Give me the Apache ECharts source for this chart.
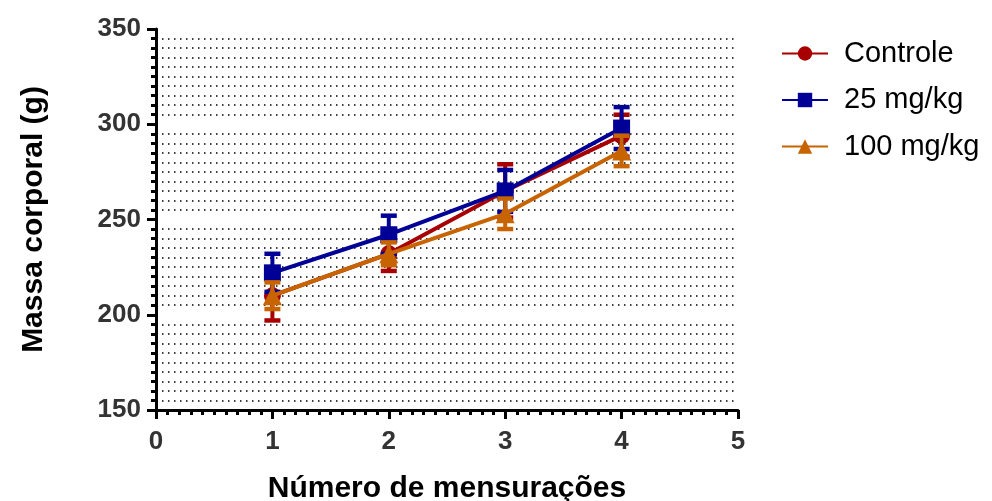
<!DOCTYPE html>
<html>
<head>
<meta charset="utf-8">
<script src="https://cdn.jsdelivr.net/npm/echarts@6/dist/echarts.min.js"></script>
<style>html,body{margin:0;padding:0;background:#fff}#c{width:992px;height:501px}</style>
</head>
<body>
<div id="c"></div>
<script>
const xs = [1, 2, 3, 4];
const seriesNames = ['Controle', '25 mg/kg', '100 mg/kg'];
const controle = [210, 232, 265, 294];
const controleErr = [13, 9, 14, 11];
const mg25 = [222, 242, 265, 298];
const mg25Err = [10, 10, 11, 11];
const mg100 = [210, 232, 253, 286];
const mg100Err = [7, 6, 8, 8];
const colors = ['#A80000', '#000096', '#C86400'];
const symbols = ['circle', 'rect', 'triangle'];
const means = [controle, mg25, mg100];
const errs = [controleErr, mg25Err, mg100Err];

const chart = echarts.init(document.getElementById('c'), null, {renderer: 'canvas'});
const font = '"Liberation Sans", Arial, sans-serif';

function errRender(color) {
  return function (params, api) {
    const x = api.value(0), lo = api.value(1), hi = api.value(2);
    const pLo = api.coord([x, lo]);
    const pHi = api.coord([x, hi]);
    const hw = 8;
    const st = {stroke: color, lineWidth: 4.5};
    return {
      type: 'group',
      children: [
        {type: 'line', shape: {x1: pLo[0], y1: pLo[1], x2: pHi[0], y2: pHi[1]}, style: {stroke: color, lineWidth: 4}},
        {type: 'line', shape: {x1: pLo[0] - hw, y1: pLo[1], x2: pLo[0] + hw, y2: pLo[1]}, style: st},
        {type: 'line', shape: {x1: pHi[0] - hw, y1: pHi[1], x2: pHi[0] + hw, y2: pHi[1]}, style: st}
      ]
    };
  };
}

const series = [];
seriesNames.forEach((name, i) => {
  series.push({
    name: name + '_err',
    type: 'custom',
    renderItem: errRender(colors[i]),
    data: xs.map((x, j) => [x, means[i][j] - errs[i][j], means[i][j] + errs[i][j]]),
    z: 2 + i * 2,
    silent: true,
    legendHoverLink: false
  });
  series.push({
    name: name,
    type: 'line',
    data: xs.map((x, j) => [x, means[i][j]]),
    symbol: symbols[i],
    symbolSize: symbols[i] === 'triangle' ? 19 : 17,
    lineStyle: {color: colors[i], width: 4},
    itemStyle: {color: colors[i]},
    z: 3 + i * 2,
    animation: false
  });
});

const option = {
  animation: false,
  backgroundColor: '#fff',
  grid: {left: 156, right: 254, top: 29, bottom: 91, containLabel: false, outerBoundsMode: 'none'},
  legend: {
    orient: 'vertical',
    left: 776,
    top: 34,
    itemWidth: 46,
    itemHeight: 18,
    itemGap: 17.5,
    data: seriesNames,
    textStyle: {fontFamily: font, fontSize: 29, color: '#000', padding: [0, 0, 0, 11]}
  },
  xAxis: {
    type: 'value',
    min: 0, max: 5, interval: 1,
    name: 'Número de mensurações',
    nameLocation: 'middle',
    nameGap: 64,
    nameTextStyle: {fontFamily: font, fontSize: 30, fontWeight: 'bold', color: '#000'},
    axisLine: {show: true, onZero: false, lineStyle: {color: '#000', width: 3}},
    axisTick: {show: true, length: 9, lineStyle: {color: '#000', width: 3}},
    minorTick: {show: true, splitNumber: 10, length: 5, lineStyle: {color: '#000', width: 3}},
    axisLabel: {fontFamily: font, fontSize: 26, fontWeight: 'bold', color: '#333', margin: 19},
    splitLine: {show: false},
    minorSplitLine: {show: false}
  },
  yAxis: {
    type: 'value',
    min: 150, max: 350, interval: 50,
    name: 'Massa corporal (g)',
    nameLocation: 'middle',
    nameGap: 107,
    nameRotate: 90,
    nameTextStyle: {fontFamily: font, fontSize: 30, fontWeight: 'bold', color: '#000'},
    axisLine: {show: true, onZero: false, lineStyle: {color: '#000', width: 3}},
    axisTick: {show: true, length: 9, lineStyle: {color: '#000', width: 3}},
    minorTick: {show: true, splitNumber: 10, length: 5, lineStyle: {color: '#000', width: 3}},
    axisLabel: {fontFamily: font, fontSize: 26, fontWeight: 'bold', color: '#333', margin: 15},
    splitLine: {show: false},
    minorSplitLine: {show: true, lineStyle: {color: '#000', width: 1.5, type: [1.5, 4.5]}}
  },
  series: series
};
chart.setOption(option);
</script>
</body>
</html>
